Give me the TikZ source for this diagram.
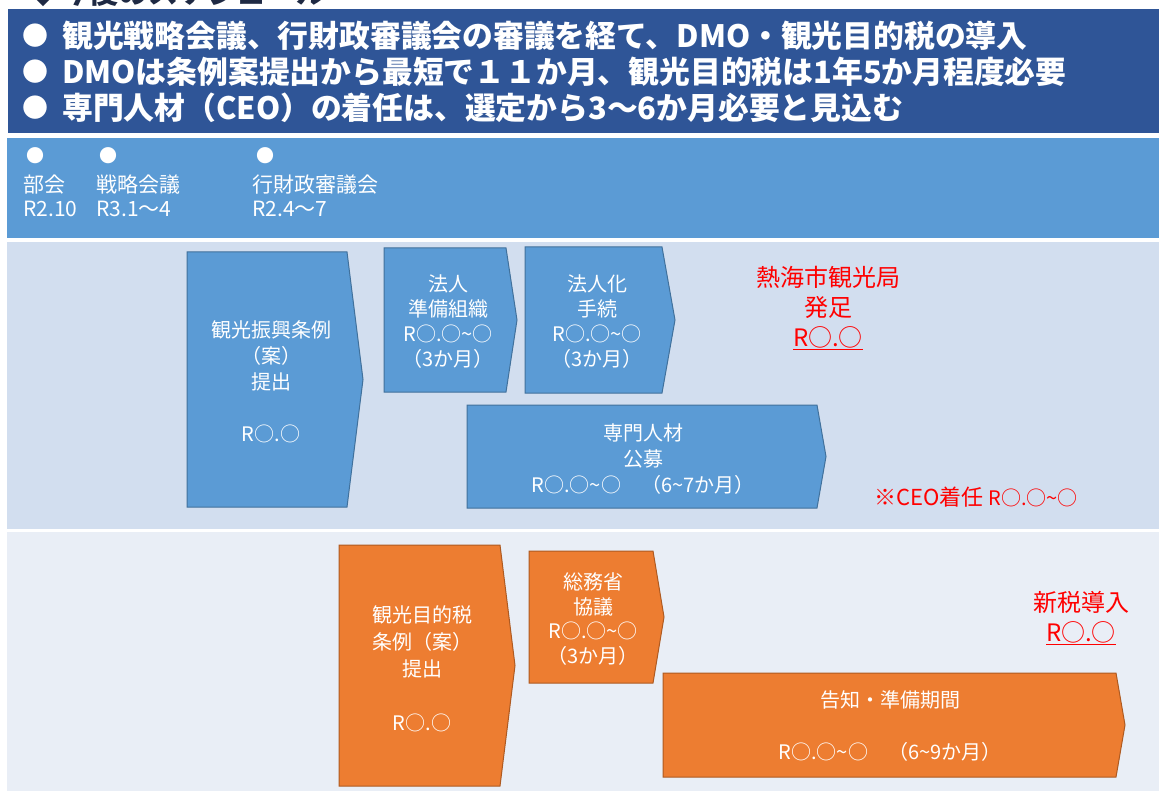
\documentclass[tikz,border=0pt]{standalone}
\usepackage{fontspec}
\setmainfont{Noto Sans CJK JP}
\definecolor{hdr}{HTML}{2F5597}
\definecolor{bandA}{HTML}{5B9BD5}
\definecolor{bandB}{HTML}{D2DEEF}
\definecolor{bandC}{HTML}{E9EEF6}
\definecolor{bfill}{HTML}{5B9BD5}
\definecolor{bline}{HTML}{41719C}
\definecolor{ofill}{HTML}{ED7D31}
\definecolor{oline}{HTML}{AE5A21}
\definecolor{redtxt}{HTML}{FF0000}
\definecolor{ttl}{HTML}{1F2A44}
\tikzset{
  bluebox/.style={fill=bfill, draw=bline, line width=1pt},
  orangebox/.style={fill=ofill, draw=oline, line width=1pt},
  boxtext/.style={text=white, align=center, inner sep=0pt, font=\fontsize{20}{26}\selectfont},
  redtext/.style={text=redtxt, align=center, inner sep=0pt},
  hdrtext/.style={text=white, anchor=west, inner sep=0pt, font=\fontsize{30.8}{36}\selectfont\bfseries},
  bandtext/.style={text=white, anchor=west, inner sep=0pt, font=\fontsize{21}{26}\selectfont},
}
\newcommand\chevronbox[6]{\draw[#1] (#2,#3) -- (#4,#3) -- (#5,{(#3+#6)/2}) -- (#4,#6) -- (#2,#6) -- cycle;}
\begin{document}
\begin{tikzpicture}[x=1pt,y=-1pt]
\useasboundingbox (0,0) rectangle (1159,791);
\fill[white] (0,0) rectangle (1159,791);
% cut-off title
\node[anchor=base west, inner sep=0pt, text=ttl, font=\fontsize{30}{36}\selectfont\bfseries] (title) at (28,4) {◆今後のスケジュール};
% header band
\fill[hdr] (8,9) rectangle (1159,133);
\node[text=white, inner sep=0pt, font=\fontsize{26}{30}\selectfont] (b1) at (35,36) {●};
\node[text=white, inner sep=0pt, font=\fontsize{26}{30}\selectfont] (b2) at (35,72) {●};
\node[text=white, inner sep=0pt, font=\fontsize{26}{30}\selectfont] (b3) at (35,108) {●};
\node[hdrtext] (h1) at (62,36) {観光戦略会議、行財政審議会の審議を経て、DMO・観光目的税の導入};
\node[hdrtext] (h2) at (62,72) {DMOは条例案提出から最短で１１か月、観光目的税は1年5か月程度必要};
\node[hdrtext] (h3) at (62,108) {専門人材（CEO）の着任は、選定から3\char"301C 6か月必要と見込む};
% bands
\fill[bandA] (7,138) rectangle (1159,238);
\fill[bandB] (7,242) rectangle (1159,529);
\fill[bandC] (7,532) rectangle (1159,791);
% band A
\node[text=white, inner sep=0pt, font=\fontsize{18}{20}\selectfont] (c1) at (36,156) {●};
\node[text=white, inner sep=0pt, font=\fontsize{18}{20}\selectfont] (c2) at (108,156) {●};
\node[text=white, inner sep=0pt, font=\fontsize{18}{20}\selectfont] (c3) at (265,156) {●};
\node[bandtext] (m1) at (23,185) {部会};
\node[bandtext] (d1) at (23,209) {R2.10};
\node[bandtext] (m2) at (96,185) {戦略会議};
\node[bandtext] (d2) at (96,209) {R3.1～4};
\node[bandtext] (m3) at (252,185) {行財政審議会};
\node[bandtext] (d3) at (252,209) {R2.4～7};
% blue chevrons
\chevronbox{bluebox}{187}{252}{347}{363}{507}
\node[boxtext] (t1) at (271,381.5) {観光振興条例\\（案）\\提出\\[26pt]R○.○};
\chevronbox{bluebox}{384}{248}{506}{517}{392}
\node[boxtext, font=\fontsize{20}{25}\selectfont] (t2) at (448,321.5) {法人\\準備組織\\R○.○\char"007E○\\（3か月）};
\chevronbox{bluebox}{525}{247}{662}{675}{393}
\node[boxtext, font=\fontsize{20}{25}\selectfont] (t3) at (597,321.5) {法人化\\手続\\R○.○\char"007E○\\（3か月）};
\chevronbox{bluebox}{467}{405}{817}{826}{508}
\node[boxtext] (t4) at (643,459) {専門人材\\公募\\R○.○\char"007E○　（6\char"007E 7か月）};
% red notes (middle)
\node[redtext, font=\fontsize{24}{30}\selectfont] (r1) at (828,308) {熱海市観光局\\発足\\\underline{R○.○}};
\node[redtext, anchor=west] (r2) at (874,497) {\fontsize{22}{24}\selectfont ※CEO着任 \fontsize{20}{24}\selectfont R○.○\char"007E○};
% orange chevrons
\chevronbox{orangebox}{339}{545}{500}{515}{786}
\node[boxtext, font=\fontsize{20}{27}\selectfont] (t5) at (422,668.5) {観光目的税\\条例（案）\\提出\\[27pt]R○.○};
\chevronbox{orangebox}{529}{551}{653}{664}{683}
\node[boxtext, font=\fontsize{20}{24.5}\selectfont] (t6) at (593,619) {総務省\\協議\\R○.○\char"007E○\\（3か月）};
\chevronbox{orangebox}{663}{673}{1116}{1125}{777}
\node[boxtext] (t7) at (890,726) {告知・準備期間\\[26pt]R○.○\char"007E○　（6\char"007E 9か月）};
% red notes (bottom)
\node[redtext, font=\fontsize{24}{30}\selectfont] (r3) at (1081,618) {新税導入\\\underline{R○.○}};
\end{tikzpicture}
\end{document}
